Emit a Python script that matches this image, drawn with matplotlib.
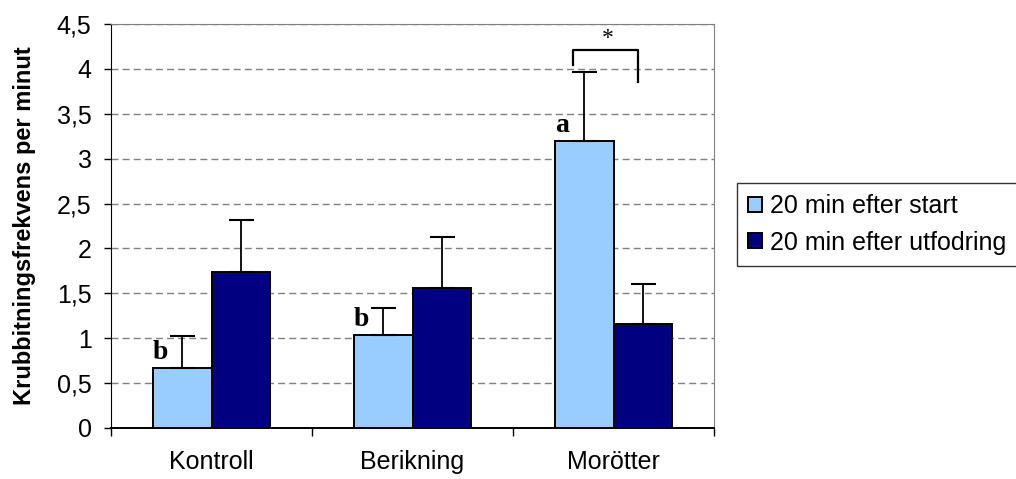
import numpy as np
import matplotlib
matplotlib.use('Agg')
import matplotlib.pyplot as plt
from matplotlib.ticker import FuncFormatter

plt.rcParams['font.family'] = ['Liberation Sans', 'DejaVu Sans']

# data
categories = ['Kontroll', 'Berikning', 'Morötter']
series_names = ['20 min efter start', '20 min efter utfodring']
start_vals = [0.67, 1.04, 3.20]
start_err = [0.35, 0.30, 0.76]
feed_vals = [1.74, 1.56, 1.16]
feed_err = [0.58, 0.57, 0.44]
letters = ['b', 'b', 'a']

light = '#99CCFF'
dark = '#000080'

fig = plt.figure(figsize=(10.16, 4.79), dpi=100)
ax = fig.add_axes([0.1093, 0.1065, 0.7028 - 0.1093, 0.9499 - 0.1065])

x = np.arange(len(categories))
w = 0.29

ax.bar(x - w/2, start_vals, w, color=light, edgecolor='black', linewidth=1.4,
       label=series_names[0], zorder=3)
ax.bar(x + w/2, feed_vals, w, color=dark, edgecolor='black', linewidth=1.4,
       label=series_names[1], zorder=3)

# only upper error bars
ax.errorbar(x - w/2, start_vals, yerr=[np.zeros(3), start_err], fmt='none',
            ecolor='black', elinewidth=1.3, capsize=9, capthick=1.5, zorder=4)
ax.errorbar(x + w/2, feed_vals, yerr=[np.zeros(3), feed_err], fmt='none',
            ecolor='black', elinewidth=1.3, capsize=9, capthick=1.5, zorder=4)

# significance letters
for i, (v, l) in enumerate(zip(start_vals, letters)):
    ax.text(x[i] - w/2 - 0.11, v + 0.03, l, fontsize=20, fontweight='bold',
            family='Liberation Serif', ha='center', va='bottom', zorder=5)

# bracket over Morötter
bx0, bx1 = 1.80, 2.12
ax.plot([bx0, bx0, bx1, bx1], [4.04, 4.21, 4.21, 3.85], color='black', lw=1.6,
        clip_on=False, zorder=5)
ax.text(1.97, 4.22, '*', fontsize=17, family='Liberation Serif', ha='center',
        va='bottom', zorder=5)

ax.set_xlim(-0.5, 2.5)
ax.set_ylim(0, 4.5)
ax.set_yticks(np.arange(0, 4.51, 0.5))
ax.yaxis.set_major_formatter(FuncFormatter(lambda v, p: ('%g' % v).replace('.', ',')))
ax.set_xticks(x)
ax.set_xticklabels(categories, fontsize=18)
ax.set_xticks([-0.5, 0.5, 1.5, 2.5], minor=True)
ax.tick_params(axis='x', which='major', length=0, pad=16)
ax.tick_params(axis='x', which='minor', length=6, width=1, direction='out')
ax.tick_params(axis='y', labelsize=18, length=5, width=1, direction='out', pad=9)

ax.yaxis.grid(True, linestyle=(0, (5, 3)), color='#808080', linewidth=1, zorder=0)
ax.set_axisbelow(True)

for s in ['top', 'right']:
    ax.spines[s].set_color('#808080')
ax.spines['left'].set_color('black')
ax.spines['bottom'].set_color('black')
ax.spines['bottom'].set_linewidth(1.4)

ax.set_ylabel('Krubbitningsfrekvens per minut', fontsize=17, fontweight='bold')
ax.yaxis.set_label_coords(-0.125, 0.5)

leg = fig.legend(loc='upper left', bbox_to_anchor=(737 / 1016, 1 - 183 / 479),
                 borderaxespad=0, fontsize=18, frameon=True, fancybox=False,
                 handlelength=0.55, handleheight=0.55, handletextpad=0.3,
                 borderpad=0.45, labelspacing=0.5)
leg.get_frame().set_edgecolor('black')
leg.get_frame().set_linewidth(1)

fig.savefig('out.png', dpi=100)
